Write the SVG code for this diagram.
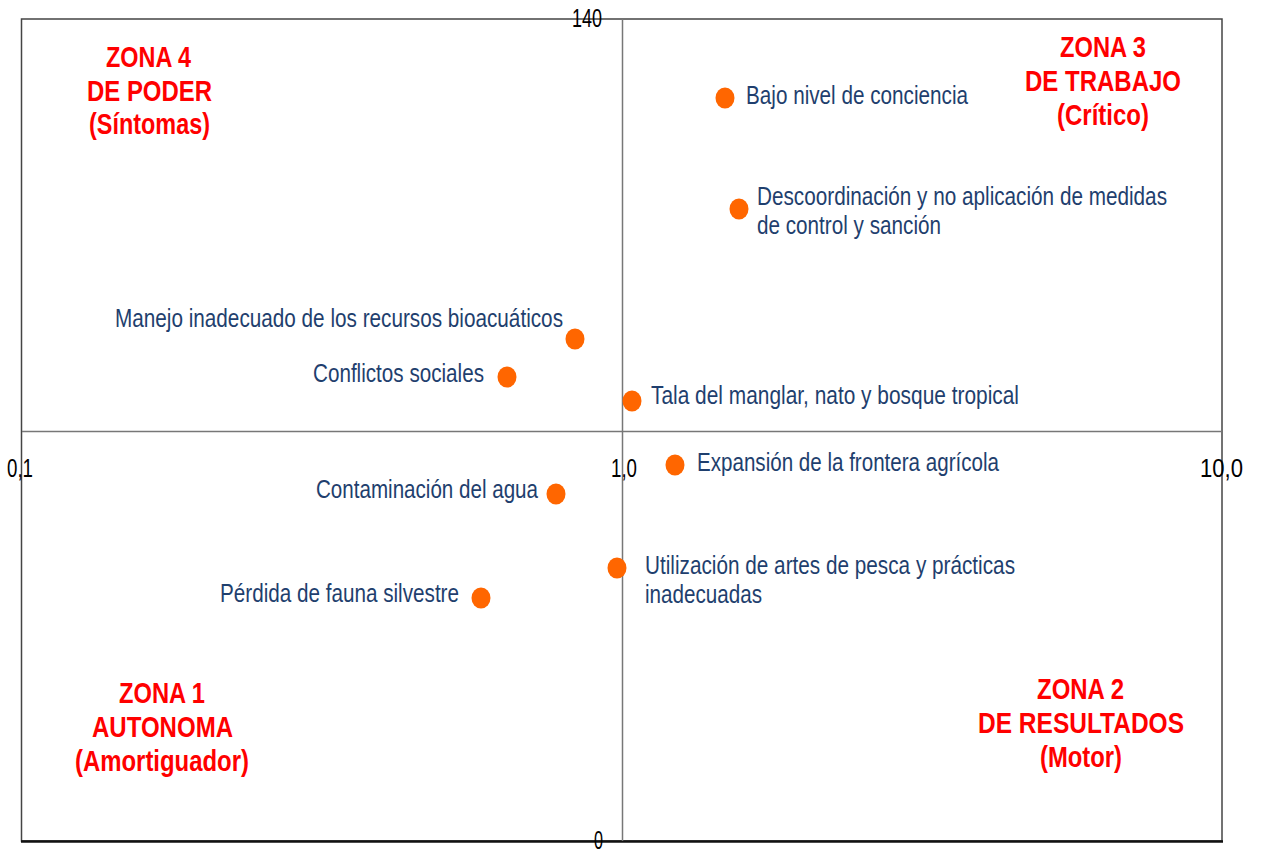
<svg xmlns="http://www.w3.org/2000/svg" width="1263" height="852" viewBox="0 0 1263 852">
<style>
text{font-family:"Liberation Sans",Arial,sans-serif}
.zone{fill:#FF0000;font-size:30px;font-weight:bold;text-anchor:middle}
.lbl{fill:#1F3F6E;font-size:25px}
.ax{fill:#000;font-size:25px}
.dot{fill:#FF6600}
.frame{stroke:#444;stroke-width:1.5;fill:none}
.mid{stroke:#777;stroke-width:1.5}
</style>
<rect width="1263" height="852" fill="#fff"/>
<g id="axes">
<rect class="frame" x="21.5" y="19" width="1200.5" height="822"/>
<line x1="21" y1="841.5" x2="1223" y2="841.5" stroke="#111" stroke-width="2.5"/>
<line class="mid" x1="622.5" y1="19" x2="622.5" y2="841"/>
<line class="mid" x1="22" y1="431.5" x2="1222" y2="431.5"/>
<text class="ax" x="572" y="27" textLength="30" lengthAdjust="spacingAndGlyphs">140</text>
<text class="ax" x="594" y="849" textLength="9" lengthAdjust="spacingAndGlyphs">0</text>
<text class="ax" x="7" y="477" textLength="26" lengthAdjust="spacingAndGlyphs">0,1</text>
<text class="ax" x="611" y="477" textLength="26" lengthAdjust="spacingAndGlyphs">1,0</text>
<text class="ax" x="1200" y="477" textLength="43" lengthAdjust="spacingAndGlyphs">10,0</text>
</g>
<g id="zona4">
<text class="zone" x="148.5" y="67" textLength="85" lengthAdjust="spacingAndGlyphs">ZONA 4</text>
<text class="zone" x="149.5" y="101" textLength="125" lengthAdjust="spacingAndGlyphs">DE PODER</text>
<text class="zone" x="149.5" y="134" textLength="121" lengthAdjust="spacingAndGlyphs">(Síntomas)</text>
</g>
<g id="zona3">
<text class="zone" x="1103" y="57" textLength="86" lengthAdjust="spacingAndGlyphs">ZONA 3</text>
<text class="zone" x="1103" y="91" textLength="156" lengthAdjust="spacingAndGlyphs">DE TRABAJO</text>
<text class="zone" x="1103" y="125" textLength="92" lengthAdjust="spacingAndGlyphs">(Crítico)</text>
</g>
<g id="zona1">
<text class="zone" x="162" y="703" textLength="86" lengthAdjust="spacingAndGlyphs">ZONA 1</text>
<text class="zone" x="162.5" y="737" textLength="141" lengthAdjust="spacingAndGlyphs">AUTONOMA</text>
<text class="zone" x="162" y="771" textLength="174" lengthAdjust="spacingAndGlyphs">(Amortiguador)</text>
</g>
<g id="zona2">
<text class="zone" x="1080.5" y="699" textLength="87" lengthAdjust="spacingAndGlyphs">ZONA 2</text>
<text class="zone" x="1081" y="733" textLength="206" lengthAdjust="spacingAndGlyphs">DE RESULTADOS</text>
<text class="zone" x="1081" y="767" textLength="82" lengthAdjust="spacingAndGlyphs">(Motor)</text>
</g>
<g id="p-bajo"><ellipse class="dot" cx="725" cy="98" rx="9.5" ry="10.5"/><text class="lbl" x="746" y="104" textLength="222" lengthAdjust="spacingAndGlyphs">Bajo nivel de conciencia</text></g>
<g id="p-descoord"><ellipse class="dot" cx="739" cy="209" rx="9.5" ry="10.5"/><text class="lbl" x="757" y="205" textLength="410" lengthAdjust="spacingAndGlyphs">Descoordinación y no aplicación de medidas</text><text class="lbl" x="757" y="234" textLength="184" lengthAdjust="spacingAndGlyphs">de control y sanción</text></g>
<g id="p-manejo"><ellipse class="dot" cx="575" cy="339" rx="9.5" ry="10.5"/><text class="lbl" x="115" y="327" textLength="448" lengthAdjust="spacingAndGlyphs">Manejo inadecuado de los recursos bioacuáticos</text></g>
<g id="p-conflictos"><ellipse class="dot" cx="507" cy="377" rx="9.5" ry="10.5"/><text class="lbl" x="313" y="382" textLength="171" lengthAdjust="spacingAndGlyphs">Conflictos sociales</text></g>
<g id="p-tala"><ellipse class="dot" cx="632" cy="401" rx="9.5" ry="10.5"/><text class="lbl" x="651" y="404" textLength="368" lengthAdjust="spacingAndGlyphs">Tala del manglar, nato y bosque tropical</text></g>
<g id="p-expansion"><ellipse class="dot" cx="675" cy="465" rx="9.5" ry="10.5"/><text class="lbl" x="697" y="471" textLength="302" lengthAdjust="spacingAndGlyphs">Expansión de la frontera agrícola</text></g>
<g id="p-contaminacion"><ellipse class="dot" cx="556" cy="494" rx="9.5" ry="10.5"/><text class="lbl" x="316" y="498" textLength="222" lengthAdjust="spacingAndGlyphs">Contaminación del agua</text></g>
<g id="p-utilizacion"><ellipse class="dot" cx="617" cy="568" rx="9.5" ry="10.5"/><text class="lbl" x="645" y="574" textLength="370" lengthAdjust="spacingAndGlyphs">Utilización de artes de pesca y prácticas</text><text class="lbl" x="645" y="603" textLength="117" lengthAdjust="spacingAndGlyphs">inadecuadas</text></g>
<g id="p-perdida"><ellipse class="dot" cx="481" cy="598" rx="9.5" ry="10.5"/><text class="lbl" x="220" y="602" textLength="239" lengthAdjust="spacingAndGlyphs">Pérdida de fauna silvestre</text></g>
</svg>
